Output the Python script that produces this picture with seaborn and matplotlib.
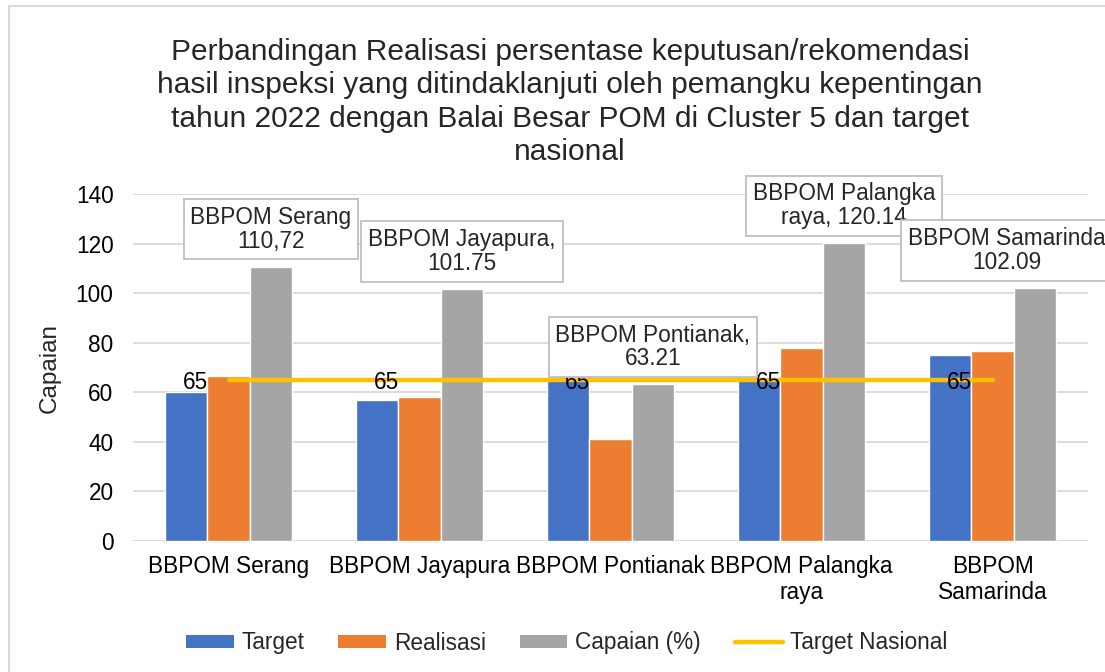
import matplotlib
matplotlib.use("Agg")
import matplotlib.pyplot as plt
import seaborn as sns
import pandas as pd
import numpy as np
from matplotlib.patches import Patch
from matplotlib.lines import Line2D

# ---------------- data ----------------
categories = ["BBPOM Serang", "BBPOM Jayapura", "BBPOM Pontianak",
              "BBPOM Palangka\nraya", "BBPOM\nSamarinda"]
target = [60, 57, 65, 65, 75]
realisasi = [66.5, 58, 41, 78, 76.5]
capaian = [110.72, 101.75, 63.21, 120.14, 102.09]
target_nasional = [65, 65, 65, 65, 65]
capaian_labels = ["BBPOM Serang\n110,72", "BBPOM Jayapura,\n101.75",
                  "BBPOM Pontianak,\n63.21", "BBPOM Palangka\nraya, 120.14",
                  "BBPOM Samarinda\n102.09"]
series_names = ["Target", "Realisasi", "Capaian (%)"]
line_name = "Target Nasional"
yticks = [0, 20, 40, 60, 80, 100, 120, 140]
title = ("Perbandingan Realisasi persentase keputusan/rekomendasi\n"
         "hasil inspeksi yang ditindaklanjuti oleh pemangku kepentingan\n"
         "tahun 2022 dengan Balai Besar POM di Cluster 5 dan target\n"
         "nasional")

colors = ["#4472C4", "#ED7D31", "#A5A5A5"]
line_color = "#FFC000"
grid_color = "#D9D9D9"
FS = 16.3

sns.set_theme(style="white")
plt.rcParams["font.family"] = ["Liberation Sans", "DejaVu Sans"]

W, H = 1105, 672
fig = plt.figure(figsize=(W / 100, H / 100), dpi=100)
ax = fig.add_axes([133 / W, 1 - 541 / H, (1088 - 133) / W, (541 - 194) / H])

df = pd.DataFrame({
    "cat": categories * 3,
    "series": [s for s in series_names for _ in categories],
    "value": target + realisasi + capaian,
})
sns.barplot(data=df, x="cat", y="value", hue="series", order=categories,
            hue_order=series_names, palette=colors, saturation=1,
            width=0.667, gap=0, errorbar=None, legend=False, ax=ax,
            zorder=2)

xs = np.arange(len(categories))
sns.lineplot(x=xs, y=target_nasional, color=line_color, linewidth=3.2,
             solid_capstyle="round", ax=ax, zorder=3)

for i, v in enumerate(target_nasional):
    ax.annotate(f"{v:g}", (xs[i], v), xytext=(-14.5, 0),
                textcoords="offset points", ha="right",
                va="center_baseline", fontsize=FS, color="black", zorder=10)

# data labels for Capaian bars
gray_bars = ax.containers[2]
dx_pts = [0, 0, 0, 0, -20.5]
for bar, lab, v, dx in zip(gray_bars, capaian_labels, capaian, dx_pts):
    cx = bar.get_x() + bar.get_width() / 2
    ax.annotate(lab, (cx, v), xytext=(dx, 10.0), textcoords="offset points",
                ha="center", va="bottom", fontsize=FS, linespacing=1.05,
                bbox=dict(boxstyle="square,pad=0.3", fc="white",
                          ec="#BFBFBF", lw=1.3),
                annotation_clip=False, zorder=11)

ax.set_ylim(0, 140)
ax.set_xlim(-0.5, 4.5)
ax.set_yticks(yticks)
ax.yaxis.grid(True, color=grid_color, lw=1.3)
ax.xaxis.grid(False)
ax.set_axisbelow(True)
for s in ax.spines.values():
    s.set_visible(False)
ax.tick_params(axis="y", length=0, pad=14, labelsize=FS, labelcolor="black")
ax.tick_params(axis="x", length=0, pad=10, labelsize=FS, labelcolor="black")
ax.set_xlabel("")
ax.set_ylabel("")
fig.text(50 / W, 1 - 368 / H, "Capaian", rotation=90, ha="center",
         va="center", fontsize=17.5)

fig.text(570 / W, 1 - 102 / H, title, ha="center", va="center",
         fontsize=21.5, linespacing=1.25)

handles = [Patch(facecolor=c, edgecolor="none") for c in colors]
handles.append(Line2D([0], [0], color=line_color, lw=3.2,
                      solid_capstyle="round"))
fig.legend(handles, series_names + [line_name], loc="center",
           bbox_to_anchor=(567 / W, 1 - 643 / H), ncol=4, frameon=False,
           fontsize=FS, handlelength=2.1, handleheight=0.5,
           handletextpad=0.35, columnspacing=1.5)

# outer chart border (top and left visible)
fig.add_artist(Line2D([8.7 / W, 8.7 / W], [0, 1 - 6 / H],
                      transform=fig.transFigure, color=grid_color, lw=1.5))
fig.add_artist(Line2D([8.7 / W, 1], [1 - 6 / H, 1 - 6 / H],
                      transform=fig.transFigure, color=grid_color, lw=1.5))

fig.savefig("out.png", dpi=100)
